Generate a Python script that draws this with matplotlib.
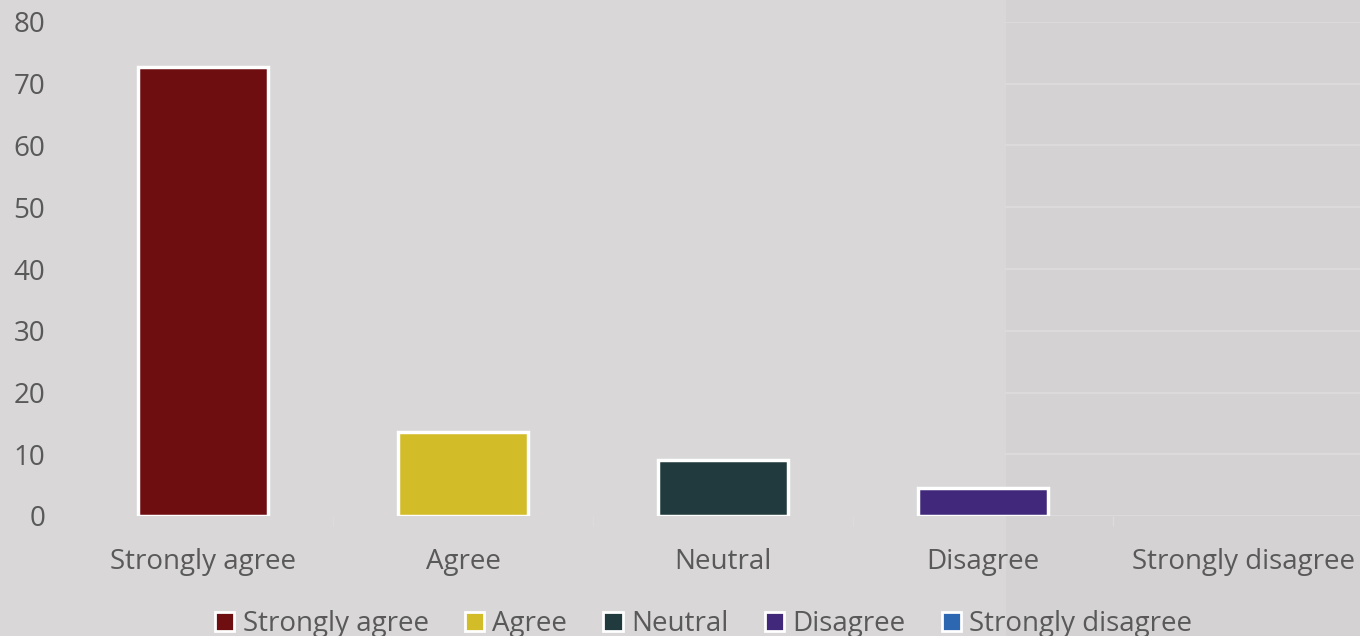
import matplotlib
matplotlib.use("Agg")
import matplotlib.pyplot as plt
from matplotlib.patches import Rectangle

categories = ["Strongly agree", "Agree", "Neutral", "Disagree", "Strongly disagree"]
values = [72.7, 13.6, 9.1, 4.5, 0.0]
colors = ["#6e0e10", "#d2bc27", "#203a3d", "#41287a", "#2e67b1"]
yticks = [0, 10, 20, 30, 40, 50, 60, 70, 80]

plt.rcParams['font.family'] = ['Open Sans', 'DejaVu Sans']
text_color = "#595959"
bg = "#d9d7d8"

W, H = 1360, 636
fig = plt.figure(figsize=(W/100, H/100), dpi=100, facecolor=bg)

# right darker panel (screenshot artifact)
fig.patches.append(Rectangle((1006/W, 0), 1 - 1006/W, 1, transform=fig.transFigure,
                             facecolor="#d4d2d3", edgecolor="none", zorder=-5))

left_px, right_px = 73, 1360
top_px, bot_px = 22, 516
ax = fig.add_axes([left_px/W, 1 - bot_px/H, (right_px-left_px)/W, (bot_px-top_px)/H])
ax.set_facecolor("none")
ax.set_xlim(-0.5, 4.45)
ax.set_ylim(0, 80)

# faint gridlines only in the right panel
x0 = (1006 - left_px) / (right_px - left_px)
for y in yticks:
    ax.axhline(y, xmin=x0, xmax=1, color="#dcdadb", lw=1.5, zorder=1)

x = list(range(len(categories)))
for i in x:
    ax.bar(i, values[i], width=0.5, color=colors[i], edgecolor="white",
           linewidth=2.5 if values[i] > 0 else 0, zorder=3, label=categories[i])

for s in ax.spines.values():
    s.set_visible(False)
ax.set_yticks(yticks)
ax.set_yticklabels([str(v) for v in yticks])
ax.set_xticks(x)
ax.set_xticklabels(categories)
ax.tick_params(axis='both', length=0, colors=text_color, labelsize=20)
ax.tick_params(axis='y', pad=20)
ax.tick_params(axis='x', pad=23)
ax.set_xticks([0.5, 1.5, 2.5, 3.5], minor=True)
ax.tick_params(axis='x', which='minor', length=7, width=1, color="#dddbdc")

leg = ax.legend(loc='upper center', bbox_to_anchor=(0.49, -0.168), ncol=5, frameon=False,
                fontsize=20, handlelength=0.7, handleheight=0.7, handletextpad=0.3,
                columnspacing=1.3, labelcolor=text_color, borderaxespad=0)
for h in leg.legend_handles:
    h.set_linewidth(2)
    h.set_edgecolor("white")

fig.savefig("out.png", dpi=100, facecolor=bg)
